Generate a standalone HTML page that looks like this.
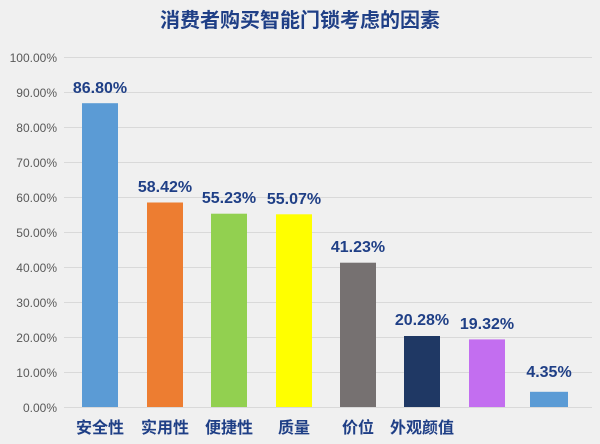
<!DOCTYPE html>
<html><head><meta charset="utf-8"><style>
body{margin:0;background:#f0f0f0;}
svg{display:block;font-family:"Liberation Sans","Noto Sans CJK SC",sans-serif;}
</style></head><body>
<svg width="600" height="444" viewBox="0 0 600 444">
<rect width="600" height="444" fill="#f0f0f0"/>
<text x="300" y="27" text-anchor="middle" font-size="20" font-weight="bold" fill="#1f3f86" font-family="Liberation Sans,Noto Sans CJK SC,sans-serif">消费者购买智能门锁考虑的因素</text>
<g stroke="#d9d9d9" stroke-width="1">
<line x1="64" x2="592" y1="57.5" y2="57.5"/><line x1="64" x2="592" y1="92.5" y2="92.5"/>
<line x1="64" x2="592" y1="127.5" y2="127.5"/><line x1="64" x2="592" y1="162.5" y2="162.5"/>
<line x1="64" x2="592" y1="197.5" y2="197.5"/><line x1="64" x2="592" y1="232.5" y2="232.5"/>
<line x1="64" x2="592" y1="267.5" y2="267.5"/><line x1="64" x2="592" y1="302.5" y2="302.5"/>
<line x1="64" x2="592" y1="337.5" y2="337.5"/><line x1="64" x2="592" y1="372.5" y2="372.5"/>
<line x1="64" x2="592" y1="407.5" y2="407.5"/>
</g>
<g font-size="12" fill="#595959" text-anchor="end">
<text x="57" y="62">100.00%</text><text x="57" y="97">90.00%</text><text x="57" y="132">80.00%</text>
<text x="57" y="167">70.00%</text><text x="57" y="202">60.00%</text><text x="57" y="237">50.00%</text>
<text x="57" y="272">40.00%</text><text x="57" y="307">30.00%</text><text x="57" y="342">20.00%</text>
<text x="57" y="377">10.00%</text><text x="57" y="412">0.00%</text>
</g>
<rect x="82" y="103.2" width="36" height="303.8" fill="#5b9bd5"/>
<rect x="147" y="202.5" width="36" height="204.5" fill="#ed7d31"/>
<rect x="211" y="213.7" width="36" height="193.3" fill="#92d050"/>
<rect x="276" y="214.3" width="36" height="192.7" fill="#ffff00"/>
<rect x="340" y="262.7" width="36" height="144.3" fill="#767171"/>
<rect x="404" y="336" width="36" height="71" fill="#1f3864"/>
<rect x="469" y="339.4" width="36" height="67.6" fill="#c36ef0"/>
<rect x="530" y="391.8" width="38" height="15.2" fill="#5b9bd5"/>
<g font-size="16" font-weight="bold" fill="#1f3f86" text-anchor="middle">
<text x="100" y="93">86.80%</text><text x="165" y="192">58.42%</text><text x="229" y="203">55.23%</text>
<text x="294" y="204">55.07%</text><text x="358" y="252">41.23%</text><text x="422" y="325">20.28%</text>
<text x="487" y="329">19.32%</text><text x="549" y="377">4.35%</text>
</g>
<g font-size="16" font-weight="bold" fill="#1f3f86" text-anchor="middle">
<text x="100" y="433">安全性</text><text x="165" y="433">实用性</text><text x="229" y="433">便捷性</text>
<text x="294" y="433">质量</text><text x="358" y="433">价位</text><text x="422" y="433">外观颜值</text>
</g>
</svg>
</body></html>
